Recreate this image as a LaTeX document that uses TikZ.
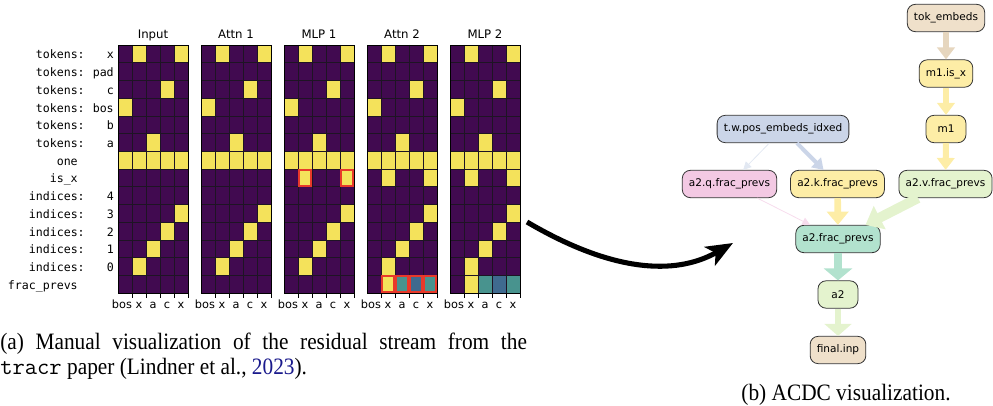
\documentclass[tikz,border=0pt]{standalone}
\usepackage{fontspec}
\setmainfont{Liberation Serif}
\newfontfamily\djs{DejaVu Sans}
\newfontfamily\djm{DejaVu Sans Mono}
\usetikzlibrary{arrows.meta}
\definecolor{vpur}{HTML}{410A50}
\definecolor{vyel}{HTML}{F4E25B}
\definecolor{vteal}{HTML}{48938E}
\definecolor{vblue}{HTML}{3F6A8F}
\definecolor{hred}{HTML}{E8392A}
\definecolor{gridc}{HTML}{1E1424}
\definecolor{cbeige}{HTML}{EFE0CA}
\definecolor{cbeigeedge}{HTML}{E6D6BE}
\definecolor{cyel}{HTML}{FDEDA6}
\definecolor{cblue}{HTML}{CBD5E8}
\definecolor{cpink}{HTML}{F3C9E3}
\definecolor{cgreen}{HTML}{E4F3CE}
\definecolor{cmint}{HTML}{B2E2CE}
\definecolor{citeblue}{HTML}{1A1A8C}
\newcommand{\capstretch}[1]{\scalebox{1}[1.1]{#1}}
\newcommand{\wtt}[1]{\scalebox{1.12}[1]{\ttfamily #1}}
\begin{document}
\begin{tikzpicture}[x=0.75pt,y=-0.75pt,
  gridline/.style={gridc, line width=0.5pt},
  redbox/.style={hred, line width=1.5pt},
  rowlab/.style={anchor=base east, inner sep=0pt, font=\djm\fontsize{8.7}{10}\selectfont},
  ticklab/.style={anchor=base, inner sep=0pt, font=\djs\fontsize{8.5}{10}\selectfont},
  paneltitle/.style={anchor=base, inner sep=0pt, font=\djs\fontsize{8.8}{10}\selectfont},
  gnode/.style={draw=black!80, line width=0.6pt, rounded corners=6pt, minimum height=20.5pt,
    minimum width=30pt, inner xsep=5pt, inner ysep=0pt, font=\djs\fontsize{7.9}{9}\selectfont},
  caption/.style={inner sep=0pt, font=\fontsize{16}{18}\selectfont}
]
\useasboundingbox (0,0) rectangle (993,406);

% ---------- heatmaps ----------
\foreach \k/\t in {0/Input,1/Attn 1,2/MLP 1,3/Attn 2,4/MLP 2}{
  \pgfmathsetmacro{\xo}{118+83*\k}
  \fill[vpur] (\xo,45) rectangle (\xo+70,293);
  \foreach \r/\c in {0/1,0/4,2/3,3/0,5/2,6/0,6/1,6/2,6/3,6/4,9/4,10/3,11/2,12/1}{
    \fill[vyel] (\xo+14*\c,45+17.714*\r) rectangle ++(14,17.714);
  }
  \ifnum\k>1
    \foreach \c in {1,4}{\fill[vyel] (\xo+14*\c,45+17.714*7) rectangle ++(14,17.714);}
  \fi
  \ifnum\k>2
    \fill[vyel]  (\xo+14,45+17.714*13) rectangle ++(14,17.714);
    \fill[vteal] (\xo+28,45+17.714*13) rectangle ++(14,17.714);
    \fill[vblue] (\xo+42,45+17.714*13) rectangle ++(14,17.714);
    \fill[vteal] (\xo+56,45+17.714*13) rectangle ++(14,17.714);
  \fi
  \foreach \c in {1,...,4}{\draw[gridline] (\xo+14*\c,45) -- (\xo+14*\c,293);}
  \foreach \r in {1,...,13}{\draw[gridline] (\xo,45+17.714*\r) -- (\xo+70,45+17.714*\r);}
  \draw[black, line width=0.7pt] (\xo,45) rectangle (\xo+70,293);
  \node[paneltitle] (title\k) at (\xo+35,38.5) {\t};
  \foreach \c/\lab/\dx in {0/bos/-3,1/x/0,2/a/0,3/c/0,4/x/0}{
    \draw[black, line width=0.6pt] (\xo+14*\c+14,293) -- ++(0,5);
    \node[ticklab] (tick\k\c) at (\xo+14*\c+7+\dx,308) {\lab};
  }
}
% red highlight boxes
\foreach \c in {1,4}{\draw[redbox] (284+14*\c+1,45+17.714*7+1) rectangle ++(12,15.714);}
\foreach \c in {1,...,4}{\draw[redbox] (367+14*\c+0.8,45+17.714*13+0.8) rectangle ++(12.4,16.1);}

% row labels
\foreach \r/\a/\b in {0/tokens:/x,1/tokens:/pad,2/tokens:/c,3/tokens:/bos,4/tokens:/b,5/tokens:/a,
  8/indices:/4,9/indices:/3,10/indices:/2,11/indices:/1,12/indices:/0}{
  \node[rowlab] (rla\r) at (85,45+17.714*\r+13.9) {\a};
  \node[rowlab] (rlb\r) at (114,45+17.714*\r+13.9) {\b};
}
\node[rowlab] (rla6) at (78,45+17.714*6+13.9) {one};
\node[rowlab] (rla7) at (78,45+17.714*7+13.9) {is\_x};
\node[rowlab] (rla13) at (78,45+17.714*13+13.9) {frac\_prevs};

% ---------- big arrow ----------
\coordinate (bs) at (527,222);
\coordinate (be) at (733,243);
\draw[line width=3.8pt, -{Stealth[length=20pt,width=16pt,inset=5pt]}]
  (bs) .. controls (612,272) and (675,276) .. (be);

% ---------- graph ----------
\node[gnode, fill=cbeige] (tok) at (946,18) {tok\_embeds};
\node[gnode, fill=cyel] (isx) at (946,73.5) {m1.is\_x};
\node[gnode, fill=cyel] (m1) at (946,129) {m1};
\node[gnode, fill=cblue] (twp) at (783,129) {t.w.pos\_embeds\_idxed};
\node[gnode, fill=cpink] (q) at (729.5,184) {a2.q.frac\_prevs};
\node[gnode, fill=cyel] (k) at (837.5,184) {a2.k.frac\_prevs};
\node[gnode, fill=cgreen] (v) at (945.5,184) {a2.v.frac\_prevs};
\node[gnode, fill=cmint] (fp) at (838,239) {a2.frac\_prevs};
\node[gnode, fill=cgreen] (a2) at (838,294.5) {a2};
\node[gnode, fill=cbeige] (fin) at (838,350) {final.inp};

\draw[cbeigeedge, line width=5pt, -{Triangle[width=13pt,length=9pt]}] (tok) -- (isx);
\draw[cyel, line width=4.5pt, -{Triangle[width=13pt,length=9pt]}] (isx) -- (m1);
\draw[cyel, line width=4.5pt, -{Triangle[width=13pt,length=9pt]}] (m1) -- (v);
\draw[cblue!55, line width=0.6pt, -{Triangle[width=6pt,length=6pt]}] (twp) -- (q);
\draw[cblue, line width=3pt, -{Triangle[width=10pt,length=8pt]}] (twp) -- (k);
\draw[cpink!65, line width=0.6pt, -{Triangle[width=6pt,length=6pt]}] (q) -- (fp);
\draw[cyel, line width=5pt, -{Triangle[width=16pt,length=10pt]}] (k) -- (fp);
\draw[cgreen, line width=7.5pt, -{Triangle[width=19pt,length=12pt]}] (v) -- (fp);
\draw[cmint, line width=6.2pt, -{Triangle[width=21pt,length=9pt]}] (fp) -- (a2);
\draw[cgreen, line width=5pt, -{Triangle[width=20pt,length=9pt]}] (a2) -- (fin);

% ---------- captions ----------
\node[caption, anchor=base west] (capa1) at (0,349)
  {\capstretch{\makebox[395pt][s]{(a) Manual visualization of the residual stream from the}}};
\node[caption, anchor=base west] (capa2) at (0,374)
  {\capstretch{\wtt{tracr} paper (Lindner et al., \textcolor{citeblue}{2023}).}};
\node[caption, anchor=base] (capb) at (846,400) {\capstretch{(b) ACDC visualization.}};
\end{tikzpicture}
\end{document}
